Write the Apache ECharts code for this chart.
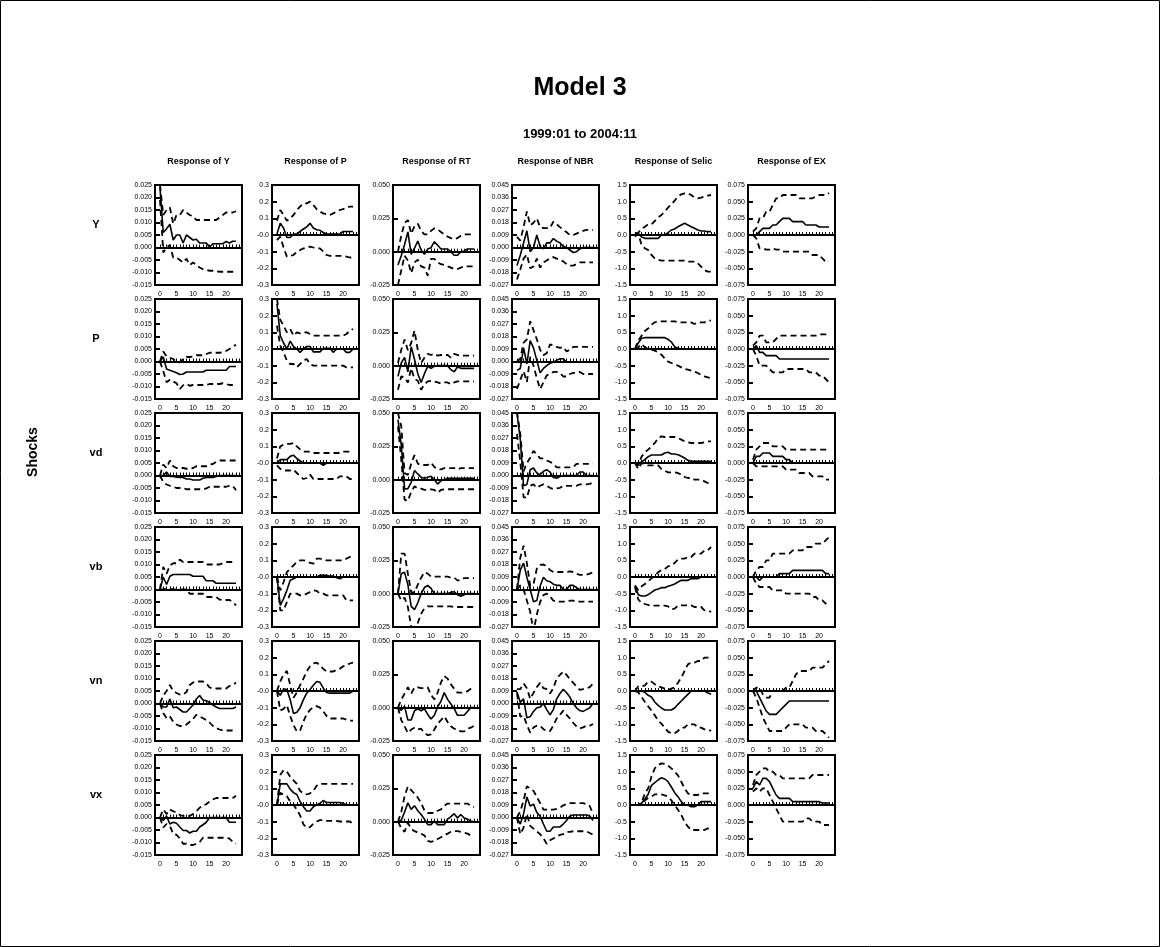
<!DOCTYPE html>
<html><head><meta charset="utf-8">
<script src="https://cdn.jsdelivr.net/npm/echarts@6/dist/echarts.min.js"></script>
<style>html,body{margin:0;padding:0;background:#fff}#c{width:1160px;height:947px}</style>
</head><body><div id="c"></div>
<script>
// ---------- categories / ticks ----------
const horizons = [0,1,2,3,4,5,6,7,8,9,10,11,12,13,14,15,16,17,18,19,20,21,22,23];
const xTickValues = [0,1,2,3,4,5,6,7,8,9,10,11,12,13,14,15,16,17,18,19,20,21,22,23,24];
const xLabelValues = [0,5,10,15,20];
const shocks = ['Y','P','vd','vb','vn','vx'];
const responses = ['Y','P','RT','NBR','Selic','EX'];
const yTicks_Y = [-0.015,-0.010,-0.005,0,0.005,0.010,0.015,0.020,0.025];
const yLabels_Y = ['-0.015','-0.010','-0.005','0.000','0.005','0.010','0.015','0.020','0.025'];
const yTicks_P = [-0.3,-0.2,-0.1,0,0.1,0.2,0.3];
const yLabels_P = ['-0.3','-0.2','-0.1','-0.0','0.1','0.2','0.3'];
const yTicks_RT = [-0.025,0,0.025,0.050];
const yLabels_RT = ['-0.025','0.000','0.025','0.050'];
const yTicks_NBR = [-0.027,-0.018,-0.009,0,0.009,0.018,0.027,0.036,0.045];
const yLabels_NBR = ['-0.027','-0.018','-0.009','0.000','0.009','0.018','0.027','0.036','0.045'];
const yTicks_Selic = [-1.5,-1.0,-0.5,0,0.5,1.0,1.5];
const yLabels_Selic = ['-1.5','-1.0','-0.5','0.0','0.5','1.0','1.5'];
const yTicks_EX = [-0.075,-0.050,-0.025,0,0.025,0.050,0.075];
const yLabels_EX = ['-0.075','-0.050','-0.025','0.000','0.025','0.050','0.075'];

// ---------- shock Y ----------
const Y_Y_mid=[0.024,0.006,0.0075,0.0093,0.003,0.005,0.005,0.0018,0.005,0.004,0.003,0.0033,0.0018,0.0018,0.0018,0.0002,0.0015,0.0015,0.0015,0.0015,0.0024,0.0018,0.0025,0.0025];
const Y_Y_hi=[0.025,0.013,0.015,0.016,0.0095,0.013,0.013,0.015,0.014,0.013,0.0125,0.011,0.011,0.011,0.011,0.011,0.011,0.011,0.012,0.013,0.014,0.014,0.014,0.0145];
const Y_Y_lo=[0.019,-0.002,0.0,0.001,-0.004,-0.004,-0.005,-0.006,-0.0045,-0.007,-0.006,-0.007,-0.008,-0.0087,-0.009,-0.0093,-0.0093,-0.0095,-0.0097,-0.0097,-0.0097,-0.0097,-0.0097,-0.0097];
const Y_P_mid=[0.006,0.07,0.042,-0.015,-0.015,0.006,0.006,0.021,0.036,0.049,0.07,0.042,0.032,0.028,0.015,0.006,0.006,0.006,0.006,0.006,0.021,0.021,0.021,0.021];
const Y_P_hi=[0.085,0.15,0.12,0.085,0.1,0.12,0.15,0.17,0.19,0.19,0.2,0.18,0.155,0.14,0.13,0.125,0.12,0.13,0.14,0.15,0.155,0.165,0.17,0.17];
const Y_P_lo=[-0.03,-0.01,-0.075,-0.13,-0.125,-0.12,-0.1,-0.09,-0.08,-0.075,-0.07,-0.075,-0.08,-0.08,-0.1,-0.12,-0.125,-0.125,-0.125,-0.125,-0.125,-0.13,-0.135,-0.135];
const Y_RT_mid=[-0.01,-0.003,0.0054,0.0148,-0.002,0.0027,0.008,0.0013,-0.002,0.002,0.003,0.0075,0.0048,0.002,0.002,0.002,0,-0.0027,-0.0027,0,0.0005,0.002,0.002,0.002];
const Y_RT_hi=[0.0,0.012,0.0215,0.0237,0.0134,0.019,0.021,0.0156,0.013,0.013,0.0156,0.0175,0.0167,0.0148,0.013,0.0113,0.0102,0.0094,0.0102,0.012,0.013,0.013,0.013,0.013];
const Y_RT_lo=[-0.025,-0.014,-0.003,-0.0067,-0.016,-0.008,-0.006,-0.011,-0.012,-0.018,-0.0054,-0.0054,-0.008,-0.0094,-0.01,-0.011,-0.012,-0.013,-0.013,-0.012,-0.011,-0.011,-0.011,-0.011];
const Y_NBR_mid=[-0.013,-0.0056,0.0033,0.012,-0.003,0,0.009,0.0008,-0.001,0.0033,0.0033,0.0064,0.0046,0.0033,0.0008,0,-0.0018,-0.0036,-0.003,-0.001,0,0,0,0];
const Y_NBR_hi=[0.0076,0.005,0.0147,0.026,0.016,0.0178,0.021,0.0147,0.014,0.014,0.014,0.0186,0.0168,0.0147,0.0127,0.011,0.009,0.009,0.01,0.011,0.012,0.0127,0.0127,0.0127];
const Y_NBR_lo=[-0.023,-0.0158,-0.008,-0.005,-0.015,-0.0137,-0.008,-0.0145,-0.0107,-0.0094,-0.0076,-0.0069,-0.008,-0.0089,-0.01,-0.012,-0.013,-0.013,-0.012,-0.0107,-0.0107,-0.0107,-0.0107,-0.0107];
const Y_Selic_mid=[0,0.04,-0.06,-0.1,-0.1,-0.1,-0.1,-0.1,0,0,0.07,0.15,0.18,0.25,0.3,0.35,0.3,0.25,0.2,0.15,0.12,0.12,0.1,0.1];
const Y_Selic_hi=[0.05,0.07,0.18,0.25,0.32,0.32,0.42,0.53,0.6,0.71,0.82,0.92,1.03,1.15,1.22,1.25,1.25,1.2,1.12,1.1,1.12,1.15,1.18,1.2];
const Y_Selic_lo=[-0.05,0.05,-0.3,-0.4,-0.45,-0.6,-0.7,-0.74,-0.77,-0.77,-0.77,-0.77,-0.77,-0.77,-0.77,-0.77,-0.8,-0.8,-0.8,-0.85,-0.95,-1.05,-1.1,-1.1];
const Y_EX_mid=[0,0,0.005,0.01,0.01,0.01,0.015,0.015,0.02,0.025,0.025,0.025,0.02,0.02,0.02,0.02,0.015,0.015,0.015,0.015,0.012,0.012,0.012,0.012];
const Y_EX_hi=[0.005,0.01,0.025,0.025,0.035,0.035,0.045,0.055,0.055,0.06,0.06,0.06,0.06,0.06,0.055,0.055,0.055,0.055,0.055,0.058,0.06,0.06,0.06,0.063];
const Y_EX_lo=[0,-0.005,-0.02,-0.02,-0.022,-0.022,-0.02,-0.022,-0.022,-0.025,-0.025,-0.025,-0.025,-0.025,-0.025,-0.025,-0.025,-0.025,-0.03,-0.03,-0.03,-0.035,-0.04,-0.04];

// ---------- shock P ----------
const P_Y_mid=[0,0.0018,-0.003,-0.0035,-0.004,-0.0045,-0.0052,-0.005,-0.0042,-0.0042,-0.0042,-0.0042,-0.0042,-0.0042,-0.0035,-0.0035,-0.0035,-0.0035,-0.0035,-0.0035,-0.0035,-0.002,-0.002,-0.002];
const P_Y_hi=[0,0.004,0.002,0.0015,0.001,-0.0003,-0.0003,0.001,0.0018,0.0018,0.002,0.0025,0.0025,0.0025,0.003,0.0035,0.0035,0.0035,0.0035,0.0038,0.0042,0.005,0.006,0.0067];
const P_Y_lo=[0,-0.0038,-0.0083,-0.0073,-0.008,-0.0087,-0.011,-0.0095,-0.009,-0.0097,-0.0094,-0.0094,-0.0094,-0.0094,-0.0094,-0.009,-0.009,-0.009,-0.009,-0.0087,-0.009,-0.0094,-0.0094,-0.0094];
const P_P_mid=[0.27,0.08,0.036,0,0.047,0.015,0,-0.02,0,0.015,0.015,-0.017,-0.017,-0.017,0.004,0.004,0.004,-0.02,0,0,0,-0.02,-0.02,0];
const P_P_hi=[0.3,0.175,0.14,0.1,0.12,0.08,0.1,0.094,0.1,0.1,0.09,0.08,0.08,0.08,0.08,0.08,0.08,0.08,0.08,0.08,0.08,0.09,0.11,0.12];
const P_P_lo=[0.14,0.02,-0.02,-0.07,-0.09,-0.09,-0.11,-0.09,-0.07,-0.06,-0.09,-0.1,-0.1,-0.1,-0.1,-0.1,-0.1,-0.1,-0.1,-0.1,-0.1,-0.11,-0.11,-0.11];
const P_RT_mid=[-0.008,0.002,0.0062,-0.0046,0.0142,0.0048,-0.006,-0.0126,-0.006,-0.0005,-0.002,-0.0005,0,0,0,0,-0.003,-0.0046,-0.001,-0.002,-0.002,-0.002,-0.002,-0.002];
const P_RT_hi=[0.002,0.012,0.0196,0.0116,0.017,0.0263,0.0116,0.002,0.006,0.0089,0.008,0.0089,0.0075,0.008,0.008,0.008,0.006,0.0089,0.008,0.0075,0.0075,0.0075,0.0075,0.0075];
const P_RT_lo=[-0.018,-0.008,-0.009,-0.0126,-0.002,-0.01,-0.0113,-0.018,-0.014,-0.0118,-0.0113,-0.0118,-0.0126,-0.0134,-0.0126,-0.0126,-0.014,-0.0126,-0.0118,-0.0118,-0.0118,-0.0118,-0.0118,-0.0118];
const P_NBR_mid=[-0.0064,-0.005,0.0098,-0.0018,0.015,0.0098,0.0008,-0.0082,-0.005,-0.003,-0.0013,-0.0005,0.0008,0.002,0.002,-0.0005,-0.0005,-0.0005,-0.0005,-0.0005,-0.0005,-0.0005,-0.0005,-0.0005];
const P_NBR_hi=[0,0.002,0.0136,0.016,0.029,0.0226,0.016,0.0085,0.0046,0.006,0.0123,0.0116,0.0105,0.0098,0.0105,0.0072,0.0085,0.0105,0.0105,0.0105,0.0105,0.0105,0.0105,0.0105];
const P_NBR_lo=[-0.0198,-0.0134,-0.007,-0.0147,0.0033,-0.003,-0.012,-0.0198,-0.015,-0.01,-0.009,-0.0075,-0.0075,-0.0082,-0.0108,-0.0108,-0.009,-0.0082,-0.0082,-0.0075,-0.009,-0.009,-0.009,-0.009];
const P_Selic_mid=[0,0.18,0.32,0.34,0.34,0.34,0.34,0.34,0.34,0.34,0.29,0.21,0.07,0.02,0,0,0,0,0,0,0,0,0,0];
const P_Selic_hi=[0,0.26,0.4,0.54,0.62,0.73,0.8,0.83,0.83,0.83,0.83,0.83,0.83,0.8,0.8,0.8,0.8,0.8,0.75,0.8,0.8,0.8,0.85,0.85];
const P_Selic_lo=[0,0.05,0.15,0.05,0,-0.02,-0.05,-0.1,-0.17,-0.28,-0.38,-0.42,-0.46,-0.5,-0.55,-0.6,-0.62,-0.65,-0.68,-0.72,-0.78,-0.82,-0.85,-0.88];
const P_EX_mid=[0,0.005,-0.005,-0.005,-0.01,-0.01,-0.01,-0.01,-0.015,-0.015,-0.015,-0.015,-0.015,-0.015,-0.015,-0.015,-0.015,-0.015,-0.015,-0.015,-0.015,-0.015,-0.015,-0.015];
const P_EX_hi=[0.005,0.01,0.02,0.02,0.01,0.01,0.01,0.015,0.02,0.02,0.02,0.02,0.02,0.02,0.02,0.02,0.02,0.02,0.02,0.02,0.022,0.022,0.022,0.022];
const P_EX_lo=[0,-0.01,-0.025,-0.025,-0.025,-0.03,-0.035,-0.035,-0.035,-0.035,-0.03,-0.03,-0.03,-0.03,-0.03,-0.03,-0.03,-0.035,-0.035,-0.035,-0.04,-0.04,-0.045,-0.05];

// ---------- shock vd ----------
const vd_Y_mid=[0,0,0.0014,-0.0004,-0.0004,-0.0007,-0.0008,-0.0008,-0.0014,-0.0014,-0.0018,-0.0018,-0.0018,-0.0011,-0.0008,-0.0008,-0.0008,-0.0004,0,0,0,0,0,0];
const vd_Y_hi=[0,0.0044,0.003,0.006,0.0037,0.003,0.003,0.003,0.0027,0.0027,0.003,0.0037,0.0037,0.0037,0.0037,0.0044,0.0046,0.0055,0.006,0.006,0.006,0.006,0.006,0.006];
const vd_Y_lo=[0,-0.0027,-0.0036,-0.0041,-0.0045,-0.005,-0.005,-0.005,-0.0055,-0.0055,-0.0055,-0.0055,-0.0055,-0.0055,-0.0052,-0.0045,-0.0045,-0.0045,-0.0045,-0.0045,-0.0045,-0.0041,-0.0041,-0.0059];
const vd_P_mid=[0,0.02,0.02,0.02,0.04,0.047,0.027,0.012,0,0,0,0,0,0,-0.014,0,0,0,0,0,0,0,0,0];
const vd_P_hi=[0.027,0.1,0.11,0.115,0.115,0.12,0.1,0.082,0.068,0.068,0.068,0.06,0.06,0.06,0.06,0.06,0.06,0.06,0.06,0.06,0.068,0.068,0.068,0.068];
const vd_P_lo=[-0.014,-0.035,-0.045,-0.045,-0.045,-0.04,-0.06,-0.08,-0.096,-0.09,-0.07,-0.096,-0.096,-0.096,-0.096,-0.096,-0.096,-0.096,-0.096,-0.08,-0.08,-0.08,-0.096,-0.096];
const vd_RT_mid=[0.045,0.026,-0.007,-0.0067,-0.002,0.0069,0.0043,0.0018,0.001,0.0018,0.0026,0,-0.0033,-0.0008,0,0.001,0.001,0.001,0.001,0.001,0.001,0.001,0.001,0.001];
const vd_RT_hi=[0.05,0.04,0.005,0.0036,0.012,0.0184,0.012,0.011,0.011,0.011,0.0128,0.0095,0.0077,0.0077,0.0087,0.0087,0.0087,0.0087,0.0077,0.0087,0.0087,0.0087,0.0087,0.0087];
const vd_RT_lo=[0.04,0.015,-0.015,-0.016,-0.009,-0.005,-0.0067,-0.0067,-0.0077,-0.0077,-0.0072,-0.0077,-0.0097,-0.0077,-0.0072,-0.0072,-0.0072,-0.0072,-0.0072,-0.0072,-0.0072,-0.0072,-0.0072,-0.0072];
const vd_NBR_mid=[0.045,0.026,-0.0074,-0.0064,0.0042,0.0054,0.0017,0.0005,0.003,0.0042,0.0025,-0.0015,-0.002,-0.0007,0,0,0,0,0,0.0025,0.0025,0,0,0];
const vd_NBR_hi=[0.046,0.03,0.003,0.009,0.0128,0.0177,0.0153,0.0123,0.0123,0.0108,0.0098,0.0084,0.0059,0.0059,0.0059,0.0059,0.0059,0.0059,0.0084,0.0084,0.0084,0.0084,0.0084,0.0084];
const vd_NBR_lo=[0.03,0.01,-0.0155,-0.0162,-0.0074,-0.0064,-0.0089,-0.0074,-0.0064,-0.0074,-0.0089,-0.0098,-0.0093,-0.0089,-0.0074,-0.0074,-0.0074,-0.0074,-0.0074,-0.0064,-0.0064,-0.0064,-0.006,-0.005];
const vd_Selic_mid=[0,0,0.03,0.1,0.19,0.24,0.24,0.24,0.24,0.3,0.32,0.27,0.27,0.25,0.2,0.15,0.08,0.05,0.05,0.05,0.05,0.05,0.05,0.05];
const vd_Selic_hi=[0,-0.07,0.19,0.32,0.4,0.5,0.6,0.74,0.8,0.78,0.78,0.78,0.78,0.75,0.7,0.65,0.62,0.6,0.6,0.6,0.6,0.62,0.65,0.65];
const vd_Selic_lo=[0,-0.18,0,-0.04,-0.07,-0.07,-0.07,-0.07,-0.18,-0.23,-0.28,-0.28,-0.28,-0.3,-0.35,-0.42,-0.45,-0.45,-0.5,-0.5,-0.5,-0.55,-0.6,-0.6];
const vd_EX_mid=[0,0.01,0.01,0.015,0.015,0.015,0.01,0.01,0.01,0.01,0.005,0.005,0,0,0,0,0,0,0,0,0,0,0,0];
const vd_EX_hi=[0.005,0.02,0.025,0.03,0.03,0.03,0.025,0.025,0.025,0.025,0.02,0.02,0.02,0.02,0.02,0.02,0.02,0.02,0.02,0.02,0.02,0.02,0.02,0.02];
const vd_EX_lo=[0,-0.005,-0.005,-0.005,-0.005,-0.005,-0.005,-0.005,-0.005,-0.005,-0.01,-0.01,-0.01,-0.01,-0.015,-0.015,-0.015,-0.015,-0.02,-0.02,-0.02,-0.02,-0.025,-0.025];

// ---------- shock vb ----------
const vb_Y_mid=[0,0.005,0.002,0.0053,0.006,0.006,0.006,0.006,0.006,0.006,0.0053,0.0053,0.0053,0.0053,0.0035,0.0035,0.0035,0.0025,0.0025,0.0025,0.0025,0.0025,0.0025,0.0025];
const vb_Y_hi=[0,0.009,0.0063,0.0096,0.0105,0.0105,0.012,0.011,0.011,0.011,0.011,0.011,0.011,0.011,0.01,0.01,0.01,0.01,0.01,0.0105,0.011,0.011,0.011,0.011];
const vb_Y_lo=[0,0,0.0003,0.0003,0,0,0,0,0,-0.0017,-0.0017,-0.0017,-0.0017,-0.0017,-0.003,-0.003,-0.003,-0.003,-0.004,-0.0042,-0.0042,-0.0042,-0.005,-0.0063];
const vb_P_mid=[0,-0.17,-0.13,-0.08,-0.02,-0.01,0,0,0,0,0,0,0,0.01,0.01,0.01,0.005,0.005,-0.005,-0.01,0,0,0,0];
const vb_P_hi=[0,-0.08,-0.03,0.03,0.05,0.07,0.09,0.1,0.1,0.095,0.085,0.08,0.11,0.11,0.105,0.1,0.1,0.1,0.1,0.1,0.1,0.11,0.12,0.13];
const vb_P_lo=[0,-0.2,-0.2,-0.15,-0.1,-0.1,-0.1,-0.11,-0.11,-0.1,-0.09,-0.08,-0.083,-0.1,-0.1,-0.11,-0.11,-0.11,-0.11,-0.11,-0.11,-0.14,-0.14,-0.14];
const vb_RT_mid=[0,0.015,0.016,0.0068,-0.0095,-0.012,-0.0068,0,0.0046,0.0062,0.004,0,0,0,0,0,0.001,0.0014,-0.0008,-0.0019,-0.0008,0,0,0];
const vb_RT_hi=[0,0.03,0.03,0.015,0.001,0.001,0.0068,0.012,0.016,0.015,0.0128,0.0128,0.0128,0.0128,0.0128,0.0128,0.012,0.012,0.01,0.01,0.0117,0.0117,0.0117,0.0117];
const vb_RT_lo=[0,-0.005,-0.003,-0.01,-0.025,-0.03,-0.022,-0.015,-0.011,-0.0095,-0.0095,-0.0095,-0.0095,-0.0095,-0.0095,-0.0095,-0.0095,-0.01,-0.01,-0.01,-0.01,-0.01,-0.01,-0.01];
const vb_NBR_mid=[0,0.014,0.019,0.0088,0,-0.0088,-0.008,0.0025,0.0088,0.0063,0.0056,0.0038,0.003,0.003,0,0,0.003,0.003,0.0013,0,0,0,0,0];
const vb_NBR_hi=[0,0.0228,0.0316,0.019,0.0025,0.0038,0.015,0.0177,0.018,0.0165,0.014,0.0126,0.0126,0.0126,0.0126,0.0126,0.013,0.0126,0.0114,0.0106,0.0106,0.0106,0.0114,0.0126];
const vb_NBR_lo=[0,0.003,0,-0.008,-0.016,-0.03,-0.018,-0.009,-0.004,-0.003,-0.005,-0.008,-0.0088,-0.0088,-0.0088,-0.0088,-0.008,-0.008,-0.0088,-0.0088,-0.0088,-0.0088,-0.0088,-0.0088];
const vb_Selic_mid=[-0.28,-0.53,-0.57,-0.57,-0.53,-0.46,-0.39,-0.36,-0.32,-0.32,-0.28,-0.25,-0.21,-0.15,-0.1,-0.1,-0.1,-0.05,-0.05,-0.05,0,0,0,0];
const vb_Selic_hi=[-0.25,-0.39,-0.28,-0.21,-0.13,-0.04,0.03,0.14,0.21,0.24,0.32,0.35,0.42,0.53,0.55,0.55,0.6,0.6,0.7,0.7,0.7,0.8,0.8,0.9];
const vb_Selic_lo=[-0.3,-0.67,-0.78,-0.81,-0.84,-0.86,-0.86,-0.86,-0.86,-0.86,-0.88,-0.97,-0.95,-0.86,-0.85,-0.85,-0.85,-0.85,-0.9,-0.9,-0.9,-1.0,-1.0,-1.05];
const vb_EX_mid=[0,0,-0.005,0,0,0,0,0,0.005,0.005,0.005,0.005,0.01,0.01,0.01,0.01,0.01,0.01,0.01,0.01,0.01,0.01,0.005,0.005];
const vb_EX_hi=[0,0.01,0.015,0.015,0.025,0.025,0.035,0.035,0.035,0.035,0.035,0.035,0.04,0.04,0.04,0.04,0.045,0.045,0.045,0.05,0.05,0.05,0.055,0.06];
const vb_EX_lo=[0,-0.01,-0.015,-0.015,-0.015,-0.015,-0.02,-0.02,-0.02,-0.02,-0.025,-0.025,-0.025,-0.025,-0.025,-0.025,-0.025,-0.025,-0.03,-0.03,-0.035,-0.035,-0.04,-0.045];

// ---------- shock vn ----------
const vn_Y_mid=[0,-0.0014,-0.0014,0.0018,-0.0017,-0.0014,-0.0024,-0.0034,-0.0034,-0.002,-0.0006,0.0018,0.0032,0.0014,0.0011,0.0004,-0.0006,-0.0014,-0.002,-0.002,-0.002,-0.002,-0.002,-0.0014];
const vn_Y_hi=[0,0.0032,0.005,0.0074,0.005,0.0042,0.0036,0.0036,0.0046,0.0074,0.0084,0.0088,0.0088,0.0088,0.0081,0.0064,0.006,0.006,0.006,0.006,0.006,0.007,0.0074,0.0084];
const vn_Y_lo=[0,-0.0038,-0.0059,-0.0052,-0.0073,-0.0084,-0.009,-0.009,-0.0084,-0.0073,-0.0062,-0.0045,-0.0052,-0.0059,-0.0066,-0.0076,-0.009,-0.0098,-0.0104,-0.0108,-0.0108,-0.0108,-0.0108,-0.0108];
const vn_P_mid=[0,-0.026,0.013,0.009,-0.052,-0.135,-0.128,-0.1,-0.052,-0.013,0.009,0.035,0.057,0.052,0.017,-0.009,-0.013,-0.013,-0.013,-0.013,-0.013,-0.013,-0.013,0];
const vn_P_hi=[0,0.057,0.1,0.12,0.035,-0.04,-0.009,0.035,0.074,0.117,0.148,0.165,0.17,0.154,0.133,0.117,0.117,0.117,0.126,0.133,0.148,0.154,0.165,0.17];
const vn_P_lo=[0,-0.117,-0.107,-0.085,-0.15,-0.204,-0.243,-0.237,-0.183,-0.139,-0.113,-0.096,-0.091,-0.1,-0.122,-0.15,-0.165,-0.165,-0.165,-0.165,-0.165,-0.172,-0.178,-0.178];
const vn_RT_mid=[0,-0.002,0.001,-0.0093,-0.0093,-0.0023,-0.0008,-0.0023,-0.0008,-0.0051,-0.0085,-0.0057,0.0006,0.0048,0.0113,0.0062,0.0028,-0.0008,-0.0057,-0.0057,-0.0057,-0.0028,0,0];
const vn_RT_hi=[0,0.006,0.0105,0.0153,0.0105,0.0153,0.0153,0.0147,0.0147,0.0153,0.0096,0.0062,0.0113,0.019,0.0237,0.0218,0.0175,0.0141,0.0113,0.0113,0.0113,0.0124,0.0141,0.0153];
const vn_RT_lo=[0,-0.0093,-0.014,-0.019,-0.0164,-0.015,-0.0164,-0.0158,-0.019,-0.0206,-0.02,-0.0164,-0.012,-0.0093,-0.0065,-0.0107,-0.014,-0.0158,-0.0164,-0.0178,-0.0178,-0.0158,-0.015,-0.0136];
const vn_NBR_mid=[0.0085,0.0008,0.0033,-0.0103,-0.0095,-0.0057,-0.0031,-0.0026,0,-0.0044,-0.0082,-0.0044,0.0033,0.0072,0.0103,0.0077,0.0046,0,-0.0031,-0.0051,-0.0057,-0.0044,-0.0031,0];
const vn_NBR_hi=[0.0103,0.0103,0.0144,0.011,0.0033,0.0077,0.0118,0.0149,0.011,0.0103,0.0072,0.011,0.018,0.0206,0.023,0.0206,0.0175,0.0149,0.0123,0.0098,0.0103,0.011,0.0118,0.0144];
const vn_NBR_lo=[0.0075,-0.0095,-0.0087,-0.0154,-0.021,-0.0172,-0.016,-0.016,-0.0185,-0.0198,-0.0198,-0.016,-0.0108,-0.0082,-0.0051,-0.0082,-0.0108,-0.0139,-0.0164,-0.018,-0.0172,-0.016,-0.016,-0.0147];
const vn_Selic_mid=[0,0,0,-0.04,-0.13,-0.18,-0.33,-0.43,-0.51,-0.57,-0.57,-0.57,-0.51,-0.4,-0.3,-0.2,-0.1,0,0,0,0,0,-0.05,-0.1];
const vn_Selic_hi=[0,0.14,0.14,0.17,0.28,0.28,0.2,0.14,0.11,0.07,0.03,0.07,0.11,0.25,0.4,0.6,0.8,0.85,0.85,0.9,0.9,1.0,1.0,1.0];
const vn_Selic_lo=[0,-0.04,-0.18,-0.33,-0.46,-0.59,-0.73,-0.89,-0.98,-1.1,-1.22,-1.27,-1.27,-1.2,-1.1,-1.1,-1.0,-1.0,-1.0,-1.1,-1.1,-1.15,-1.15,-1.2];
const vn_EX_mid=[0,0,-0.01,-0.02,-0.03,-0.035,-0.035,-0.035,-0.03,-0.025,-0.02,-0.015,-0.015,-0.015,-0.015,-0.015,-0.015,-0.015,-0.015,-0.015,-0.015,-0.015,-0.015,-0.015];
const vn_EX_hi=[0,0.005,0.005,-0.005,-0.01,-0.01,0,0,0,0,0.005,0.005,0.015,0.025,0.03,0.03,0.03,0.03,0.035,0.035,0.035,0.035,0.04,0.045];
const vn_EX_lo=[0,-0.01,-0.025,-0.04,-0.05,-0.06,-0.06,-0.06,-0.06,-0.06,-0.055,-0.05,-0.05,-0.05,-0.05,-0.05,-0.055,-0.055,-0.055,-0.06,-0.06,-0.06,-0.065,-0.07];

// ---------- shock vx ----------
const vx_Y_mid=[0,-0.0012,0.0006,-0.0026,-0.0019,-0.0023,-0.0038,-0.0052,-0.0052,-0.0062,-0.0055,-0.0055,-0.0038,-0.0029,-0.0019,0,0,0,0,0,0,-0.0019,-0.0019,-0.0019];
const vx_Y_hi=[0,0.0032,0.0014,0.0032,0.0025,0.002,0.001,0.0006,0.0006,0.0006,0.0014,0.0025,0.0039,0.0049,0.0053,0.0064,0.0072,0.0078,0.0078,0.0078,0.0078,0.0078,0.0078,0.0087];
const vx_Y_lo=[0,-0.004,-0.0026,-0.0033,-0.0066,-0.0069,-0.0084,-0.0105,-0.0105,-0.011,-0.011,-0.0105,-0.0098,-0.0081,-0.0081,-0.0081,-0.0081,-0.0081,-0.0081,-0.0081,-0.0081,-0.0084,-0.0098,-0.0105];
const vx_P_mid=[0,0.127,0.127,0.127,0.095,0.074,0.063,0.021,-0.01,-0.036,-0.036,-0.01,0,0.01,0.027,0.015,0.015,0.015,0.015,0.015,0.01,0,0,0];
const vx_P_hi=[0,0.18,0.21,0.2,0.169,0.148,0.127,0.084,0.07,0.063,0.07,0.084,0.116,0.127,0.127,0.127,0.127,0.127,0.127,0.127,0.127,0.127,0.127,0.127];
const vx_P_lo=[0,0.074,0.063,0.053,0.021,0,-0.027,-0.063,-0.116,-0.137,-0.133,-0.112,-0.099,-0.091,-0.091,-0.095,-0.095,-0.095,-0.095,-0.099,-0.099,-0.099,-0.099,-0.112];
const vx_RT_mid=[0,0.001,0.0073,0.0141,0.0092,0.012,0.0082,0.0054,0.0019,-0.0022,-0.0022,0.0005,-0.0022,-0.0022,-0.0022,0.0019,0.0038,0.006,0.0027,0.0054,0.0027,0.0019,0.0005,0];
const vx_RT_hi=[0,0.0073,0.019,0.0264,0.0236,0.021,0.018,0.0141,0.0082,0.0065,0.0065,0.0065,0.0082,0.0092,0.012,0.0136,0.0136,0.0136,0.0136,0.0136,0.0136,0.0136,0.012,0.0109];
const vx_RT_lo=[0,-0.0049,-0.0076,-0.0008,-0.0054,-0.0071,-0.0082,-0.009,-0.0103,-0.0144,-0.0152,-0.0144,-0.013,-0.0117,-0.0103,-0.009,-0.0076,-0.0071,-0.0071,-0.0076,-0.0082,-0.009,-0.0103,-0.0109];
const vx_NBR_mid=[0,-0.0047,0.0026,0.0148,0.0083,0.0096,0.0036,0.001,-0.0047,-0.0099,-0.0099,-0.0068,-0.0068,-0.0068,-0.0047,-0.0021,0.001,0.0018,0.0018,0.0018,0.0018,0.0018,0.001,-0.0021];
const vx_NBR_hi=[0,0.0044,0.0122,0.0226,0.0208,0.0192,0.0148,0.0104,0.0057,0.0057,0.0057,0.0057,0.0062,0.007,0.0088,0.0096,0.0104,0.0104,0.0104,0.0104,0.0104,0.0096,0.0083,0.0026];
const vx_NBR_lo=[0,-0.012,-0.0073,0.0026,-0.006,-0.008,-0.01,-0.012,-0.015,-0.019,-0.0164,-0.0151,-0.0138,-0.0125,-0.012,-0.0104,-0.0104,-0.0099,-0.0099,-0.0099,-0.0099,-0.0099,-0.0112,-0.0125];
const vx_Selic_mid=[0,0,0.05,0.18,0.32,0.59,0.67,0.75,0.82,0.78,0.7,0.54,0.37,0.25,0.1,0,0,-0.05,-0.05,0,0.1,0.1,0.1,0.1];
const vx_Selic_hi=[0,0,0.07,0.35,0.5,0.86,1.1,1.2,1.25,1.23,1.18,1.1,1.0,0.89,0.7,0.5,0.35,0.3,0.3,0.3,0.35,0.35,0.35,0.35];
const vx_Selic_lo=[0,0,0.02,0.14,0.21,0.25,0.32,0.32,0.32,0.29,0.25,0.14,0,-0.14,-0.3,-0.5,-0.65,-0.75,-0.75,-0.75,-0.75,-0.75,-0.7,-0.75];
const vx_EX_mid=[0.025,0.035,0.03,0.04,0.04,0.035,0.025,0.015,0.01,0.01,0.01,0.01,0.005,0.005,0.005,0.005,0.005,0.005,0.005,0.005,0.005,0.003,0.003,0.003];
const vx_EX_hi=[0.03,0.045,0.05,0.055,0.055,0.05,0.05,0.045,0.045,0.04,0.04,0.04,0.04,0.04,0.04,0.04,0.04,0.04,0.045,0.045,0.045,0.045,0.045,0.045];
const vx_EX_lo=[0.02,0.025,0.02,0.025,0.025,0.015,0.005,-0.005,-0.015,-0.025,-0.025,-0.025,-0.025,-0.025,-0.025,-0.025,-0.02,-0.02,-0.025,-0.025,-0.025,-0.03,-0.03,-0.03];

// ---------- assemble ----------
const SERIES = {
 Y:{Y:[Y_Y_mid,Y_Y_hi,Y_Y_lo],P:[Y_P_mid,Y_P_hi,Y_P_lo],RT:[Y_RT_mid,Y_RT_hi,Y_RT_lo],NBR:[Y_NBR_mid,Y_NBR_hi,Y_NBR_lo],Selic:[Y_Selic_mid,Y_Selic_hi,Y_Selic_lo],EX:[Y_EX_mid,Y_EX_hi,Y_EX_lo]},
 P:{Y:[P_Y_mid,P_Y_hi,P_Y_lo],P:[P_P_mid,P_P_hi,P_P_lo],RT:[P_RT_mid,P_RT_hi,P_RT_lo],NBR:[P_NBR_mid,P_NBR_hi,P_NBR_lo],Selic:[P_Selic_mid,P_Selic_hi,P_Selic_lo],EX:[P_EX_mid,P_EX_hi,P_EX_lo]},
 vd:{Y:[vd_Y_mid,vd_Y_hi,vd_Y_lo],P:[vd_P_mid,vd_P_hi,vd_P_lo],RT:[vd_RT_mid,vd_RT_hi,vd_RT_lo],NBR:[vd_NBR_mid,vd_NBR_hi,vd_NBR_lo],Selic:[vd_Selic_mid,vd_Selic_hi,vd_Selic_lo],EX:[vd_EX_mid,vd_EX_hi,vd_EX_lo]},
 vb:{Y:[vb_Y_mid,vb_Y_hi,vb_Y_lo],P:[vb_P_mid,vb_P_hi,vb_P_lo],RT:[vb_RT_mid,vb_RT_hi,vb_RT_lo],NBR:[vb_NBR_mid,vb_NBR_hi,vb_NBR_lo],Selic:[vb_Selic_mid,vb_Selic_hi,vb_Selic_lo],EX:[vb_EX_mid,vb_EX_hi,vb_EX_lo]},
 vn:{Y:[vn_Y_mid,vn_Y_hi,vn_Y_lo],P:[vn_P_mid,vn_P_hi,vn_P_lo],RT:[vn_RT_mid,vn_RT_hi,vn_RT_lo],NBR:[vn_NBR_mid,vn_NBR_hi,vn_NBR_lo],Selic:[vn_Selic_mid,vn_Selic_hi,vn_Selic_lo],EX:[vn_EX_mid,vn_EX_hi,vn_EX_lo]},
 vx:{Y:[vx_Y_mid,vx_Y_hi,vx_Y_lo],P:[vx_P_mid,vx_P_hi,vx_P_lo],RT:[vx_RT_mid,vx_RT_hi,vx_RT_lo],NBR:[vx_NBR_mid,vx_NBR_hi,vx_NBR_lo],Selic:[vx_Selic_mid,vx_Selic_hi,vx_Selic_lo],EX:[vx_EX_mid,vx_EX_hi,vx_EX_lo]}
};
const YAXES = {
 Y:[yTicks_Y,yLabels_Y], P:[yTicks_P,yLabels_P], RT:[yTicks_RT,yLabels_RT],
 NBR:[yTicks_NBR,yLabels_NBR], Selic:[yTicks_Selic,yLabels_Selic], EX:[yTicks_EX,yLabels_EX]
};

// ---------- layout ----------
const FONT = '"Liberation Sans", Arial, Helvetica, sans-serif';
const colLeft = [155, 272, 393, 512, 630, 748];
const rowTop = [185, 299, 413, 527, 641, 755];
const boxW = 87, boxH = 100;

const grids = [], xAxes = [], yAxes = [], series = [];
const graphics = [];
shocks.forEach((s, r) => {
  responses.forEach((resp, c) => {
    const idx = grids.length;
    grids.push({left: colLeft[c], top: rowTop[r], width: boxW, height: boxH,
      show: true, borderColor: '#000', borderWidth: 2, backgroundColor: 'transparent'});
    xAxes.push({type: 'value', gridIndex: idx, min: -1.5, max: 24.8,
      axisLine: {show: false}, splitLine: {show: false},
      axisTick: {show: true, inside: true, length: 3, lineStyle: {color: '#000', width: 1}, customValues: xTickValues},
      axisLabel: {show: true, fontSize: 7, color: '#000', fontFamily: FONT, margin: 6, customValues: xLabelValues}
    });
    const [ticks, labels] = YAXES[resp];
    yAxes.push({type: 'value', gridIndex: idx, min: ticks[0], max: ticks[ticks.length - 1],
      interval: ticks[1] - ticks[0],
      axisLine: {show: false}, splitLine: {show: false},
      axisTick: {show: true, inside: false, length: 4, lineStyle: {color: '#000', width: 2}, customValues: ticks},
      axisLabel: {show: true, fontSize: 7, color: '#000', fontFamily: FONT, margin: 3, customValues: ticks,
        formatter: v => { let bi = 0, bd = 1e9; ticks.forEach((t, i) => { const d = Math.abs(t - v); if (d < bd) { bd = d; bi = i; } }); return labels[bi]; }}
    });
    const [mid, hi, lo] = SERIES[s][resp];
    const pts = arr => horizons.map((h, i) => [h, arr[i]]);
    series.push({type: 'line', xAxisIndex: idx, yAxisIndex: idx, data: pts(mid), symbol: 'none',
      lineStyle: {color: '#000', width: 1.6}, clip: true, silent: true, z: 3,
      markLine: {silent: true, symbol: ['none', 'none'], label: {show: false},
        lineStyle: {color: '#000', width: 2, type: 'solid'}, data: [{yAxis: 0}]}});
    [hi, lo].forEach(b => series.push({type: 'line', xAxisIndex: idx, yAxisIndex: idx, data: pts(b), symbol: 'none',
      lineStyle: {color: '#000', width: 1.8, type: [6, 4]}, clip: true, silent: true, z: 2}));
  });
});

// texts
graphics.push({type: 'rect', shape: {x: 0.5, y: 0.5, width: 1159, height: 946}, style: {fill: 'none', stroke: '#000', lineWidth: 1}});
graphics.push({type: 'text', x: 580, y: 88, style: {text: 'Model 3', font: 'bold 25px ' + FONT, fill: '#000', textAlign: 'center', textVerticalAlign: 'middle'}});
graphics.push({type: 'text', x: 580, y: 134, style: {text: '1999:01 to 2004:11', font: 'bold 13px ' + FONT, fill: '#000', textAlign: 'center', textVerticalAlign: 'middle'}});
responses.forEach((resp, c) => graphics.push({type: 'text', x: colLeft[c] + boxW / 2, y: 162,
  style: {text: 'Response of ' + resp, font: 'bold 9px ' + FONT, fill: '#000', textAlign: 'center', textVerticalAlign: 'middle'}}));
shocks.forEach((s, r) => graphics.push({type: 'text', x: 96, y: rowTop[r] + 40,
  style: {text: s, font: 'bold 11px ' + FONT, fill: '#000', textAlign: 'center', textVerticalAlign: 'middle'}}));
graphics.push({type: 'text', x: 33, y: 452, rotation: Math.PI / 2,
  style: {text: 'Shocks', font: 'bold 14px ' + FONT, fill: '#000', textAlign: 'center', textVerticalAlign: 'middle'}});

const chart = echarts.init(document.getElementById('c'), null, {renderer: 'canvas'});
chart.setOption({animation: false, backgroundColor: '#fff', grid: grids, xAxis: xAxes, yAxis: yAxes, series: series, graphic: graphics});
</script></body></html>
